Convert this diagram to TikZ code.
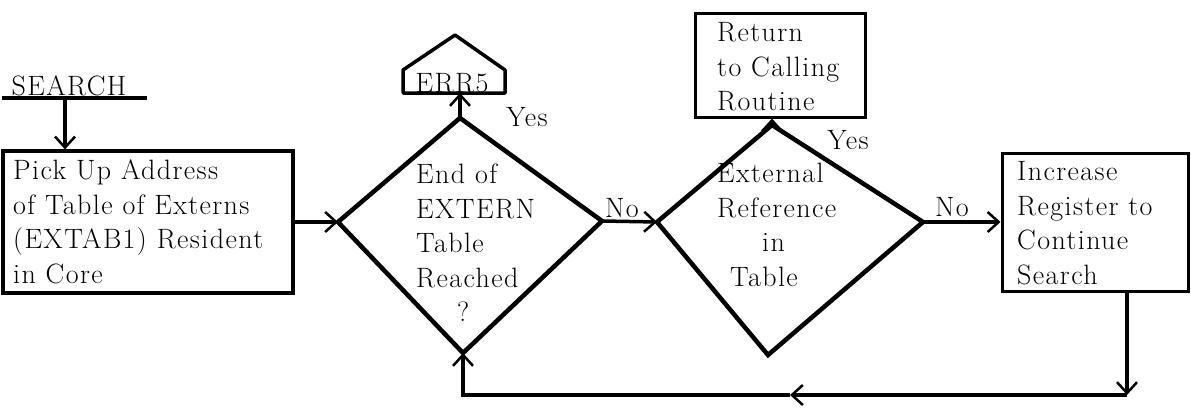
\documentclass[tikz,border=0pt]{standalone}
\usepackage{fontspec}
\setmainfont{Latin Modern Roman}[LetterSpace=5.0]
\usetikzlibrary{arrows.meta}
\begin{document}
\begin{tikzpicture}[x=1pt,y=-1pt,
  every node/.style={font=\fontsize{28}{34.5}\selectfont, inner sep=0pt, text=black},
  boxnode/.style={draw=black, line width=3.2pt},
  txt/.style={align=left, anchor=west},
  arr/.style={line width=3.5pt, -{Straight Barb[length=11pt,width=20pt,line width=2.5pt]}},
  plainline/.style={line width=3.5pt},
  dia/.style={line width=4.5pt, line join=miter}]
\useasboundingbox (0,0) rectangle (1191,415);

% SEARCH entry
\node (search) at (69,86) {SEARCH};
\coordinate (ul1) at (2,98);
\coordinate (ul2) at (147,98);
\coordinate (s1) at (65,98);
\draw[plainline] (ul1) -- (ul2);

% boxes
\node[boxnode, minimum width=290pt, minimum height=142pt] (box1) at (148,222) {};
\node[txt] (box1txt) at (13,222)
  {Pick Up Address\\of Table of Externs\\(EXTAB1) Resident\\in Core};
\node[boxnode, line width=3pt, minimum width=170pt, minimum height=104pt] (ret) at (780,65) {};
\node[txt] (rettxt) at (717,67) {Return\\to Calling\\Routine};
\node[boxnode, line width=3pt, minimum width=186pt, minimum height=138pt] (box3) at (1095,222) {};
\node[txt] (box3txt) at (1017,223) {Increase\\Register to\\Continue\\Search};

% ERR5 connector
\coordinate (e1) at (403,93);
\coordinate (e2) at (403,70);
\coordinate (e3) at (455,35);
\coordinate (e4) at (505,70);
\coordinate (e5) at (505,93);
\draw[line width=3.5pt, line join=round] (e1) -- (e2) -- (e3) -- (e4) -- (e5) -- cycle;
\node (err) at (452,83) {ERR5};

% diamond 1
\coordinate (d1t) at (460,118);
\coordinate (d1r) at (602,221);
\coordinate (d1b) at (463,353);
\coordinate (d1l) at (338,222);
\draw[dia] (d1t) -- (d1r) -- (d1b) -- (d1l) -- cycle;
\node[txt] (t1) at (416,243)
  {End of\\EXTERN\\Table\\Reached\\\hspace*{41pt}?};

% diamond 2
\coordinate (d2t) at (772,125);
\coordinate (d2r) at (923,222);
\coordinate (d2b) at (768,355);
\coordinate (d2l) at (657,222);
\draw[dia] (d2t) -- (d2r) -- (d2b) -- (d2l) -- cycle;
\node[txt] (t2) at (717,225)
  {External\\Reference\\\hspace*{45pt}in\\\hspace*{13pt}Table};

% labels
\node (yes1) at (527,117) {Yes};
\node (no1) at (622,208) {No};
\node (yes2) at (848,140) {Yes};
\node (no2) at (952,207) {No};

% connectors
\draw[arr] (s1) -- (s1 |- box1.north);
\draw[arr] (box1.east |- d1l) -- (d1l);
\draw[arr] (d1t) -- (d1t |- e1);
\draw[arr] (d1r) -- (d2l);
\draw[arr] (d2t) -- (d2t |- ret.south);
\draw[arr] (d2r) -- (d2r -| box3.west);

\coordinate (c1) at (1127,395);
\coordinate (cm) at (790,395);
\coordinate (c2) at (463,395);
\draw[arr] (c1 |- box3.south) -- (c1);
\draw[arr] (c1) -- (cm);
\draw[arr] (cm) -- (c2) -- (d1b);
\end{tikzpicture}
\end{document}
